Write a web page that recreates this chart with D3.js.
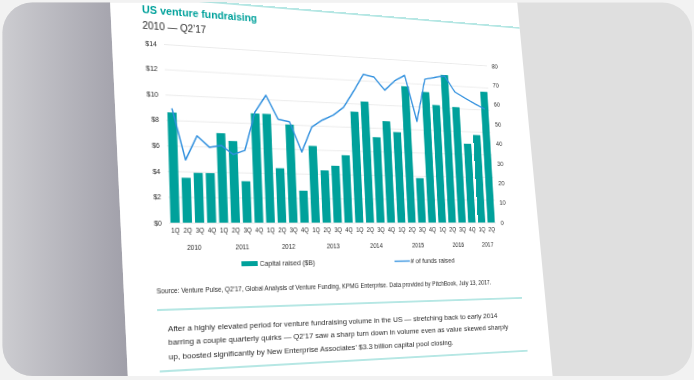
<!DOCTYPE html>
<html><head><meta charset="utf-8">
<script src="https://cdn.jsdelivr.net/npm/d3@7/dist/d3.min.js"></script>
<style>
html,body{margin:0;padding:0;background:#f2f2f2;width:694px;height:380px;overflow:hidden;}
#bg{position:absolute;left:0;top:0;}
#clip{position:absolute;left:0;top:0;width:694px;height:380px;clip-path:polygon(110px 2px,517px 2px,553px 377px,128px 377px);}
#flat{position:absolute;left:0;top:0;width:700px;height:420px;transform-origin:0 0;}
#flat svg{overflow:visible;display:block;}
text{font-family:"Liberation Sans",Arial,sans-serif;}
</style></head><body>
<svg id="bg" width="694" height="380"></svg>
<div id="clip"><div id="flat"><svg width="700" height="420"></svg></div></div>
<script>
// ---------- data ----------
const categories = [
  "2010 1Q","2010 2Q","2010 3Q","2010 4Q",
  "2011 1Q","2011 2Q","2011 3Q","2011 4Q",
  "2012 1Q","2012 2Q","2012 3Q","2012 4Q",
  "2013 1Q","2013 2Q","2013 3Q","2013 4Q",
  "2014 1Q","2014 2Q","2014 3Q","2014 4Q",
  "2015 1Q","2015 2Q","2015 3Q","2015 4Q",
  "2016 1Q","2016 2Q","2016 3Q","2016 4Q",
  "2017 1Q","2017 2Q"
];
const quarterLabels = ["1Q","2Q","3Q","4Q","1Q","2Q","3Q","4Q","1Q","2Q","3Q","4Q","1Q","2Q","3Q","4Q",
  "1Q","2Q","3Q","4Q","1Q","2Q","3Q","4Q","1Q","2Q","3Q","4Q","1Q","2Q"];
const years = ["2010","2011","2012","2013","2014","2015","2016","2017"];
const capitalRaised = [8.6,3.5,3.9,3.9, 7.1,6.5,3.3,8.8, 8.8,4.4,8.0,2.6, 6.3,4.3,4.7,5.6,
  9.3,10.2,7.2,8.6, 7.7,11.7,3.8,11.3, 10.2,12.9,10.1,6.9, 7.7,11.6];
const fundsRaised = [51,28,39,34, 35,31,33,51, 59,48,47,33, 45,48.5,51,55,
  63,71.6,70.6,64.4, 69.3,72.3,49.7,71, 72.2,73.3,65.3,62.5, 59.9,57.5];
const leftTicks = [0,2,4,6,8,10,12,14];
const rightTicks = [0,10,20,30,40,50,60,70,80];
const seriesNames = ["Capital raised ($B)", "# of funds raised"];
const titleText = "US venture fundraising";
const subtitleText = "2010 \u2014 Q2\u201917";
const sourceText = "Source: Venture Pulse, Q2\u201917, Global Analysis of Venture Funding, KPMG Enterprise. Data provided by PitchBook, July 13, 2017.";
const bodyLines = [
  "After a highly elevated period for venture fundraising volume in the US \u2014 stretching back to early 2014",
  "barring a couple quarterly quirks \u2014 Q2\u201917 saw a sharp turn down in volume even as value skewed sharply",
  "up, boosted significantly by New Enterprise Associates\u2019 $3.3 billion capital pool closing."
];

const TEAL = "#00a19b", BLUE = "#2f8fde", TXT = "#2a2a2a", RULE = "#6fcfc9";

// ---------- background (photo frame) ----------
const bg = d3.select("#bg");
const defs = bg.append("defs");
const lg = defs.append("linearGradient").attr("id","lg").attr("x1",0).attr("x2",1).attr("y1",0).attr("y2",0);
lg.append("stop").attr("offset",0).attr("stop-color","#cdcdd1");
lg.append("stop").attr("offset",1).attr("stop-color","#a09fa9");
defs.append("clipPath").attr("id","frame").append("rect")
  .attr("x",2.5).attr("y",2.5).attr("width",689.5).attr("height",373.5).attr("rx",30);
const fg = bg.append("g").attr("clip-path","url(#frame)");
fg.append("rect").attr("x",0).attr("y",0).attr("width",694).attr("height",380).attr("fill","#dfdfdf");
fg.append("path").attr("d","M0,0L110,0L128,380L0,380Z").attr("fill","url(#lg)");
fg.append("path").attr("d","M110,0L517,0L553,380L128,380Z").attr("fill","#ffffff");

// ---------- flat page ----------
const svg = d3.select("#flat svg");
const x0 = 164, x1 = 532, y0 = 44, y1 = 223;

const x = d3.scaleBand().domain(categories).range([x0, x1]).paddingInner(0.25).paddingOuter(0.12);
const yL = d3.scaleLinear().domain([0,14]).range([y1, y0]);
const yR = d3.scaleLinear().domain([0,80]).range([y1, y0]);

// top rule
svg.append("line").attr("x1",100).attr("x2",600).attr("y1",-3).attr("y2",-3)
  .attr("stroke",RULE).attr("stroke-width",1.2);

// title
svg.append("text").attr("x",143).attr("y",14).attr("fill",TEAL)
  .attr("font-size",10.8).attr("font-weight","bold").text(titleText);
svg.append("text").attr("x",143).attr("y",30.5).attr("fill",TXT)
  .attr("font-size",10).text(subtitleText);

// left axis with gridlines
const gL = svg.append("g").attr("transform",`translate(${x0},0)`)
  .call(d3.axisLeft(yL).tickValues(leftTicks).tickFormat(d => "$" + d)
    .tickSize(-(x1 - x0)).tickPadding(7));
gL.select(".domain").remove();
gL.selectAll(".tick line").attr("stroke","#e6e6e6").attr("stroke-width",0.8);
gL.selectAll(".tick text").attr("font-size",7).attr("fill",TXT).attr("font-family",null);

// right axis
const gR = svg.append("g").attr("transform",`translate(${x1},0)`)
  .call(d3.axisRight(yR).tickValues(rightTicks).tickSize(0).tickPadding(6));
gR.select(".domain").remove();
gR.selectAll(".tick text").attr("font-size",7).attr("fill",TXT).attr("font-family",null);

// bars
svg.append("g").selectAll("rect").data(capitalRaised).join("rect")
  .attr("x",(d,i) => x(categories[i]))
  .attr("width",x.bandwidth())
  .attr("y",d => yL(d))
  .attr("height",d => yL(0) - yL(d))
  .attr("fill",TEAL);

// line
const line = d3.line().x((d,i) => x(categories[i]) + x.bandwidth()/2).y(d => yR(d));
svg.append("path").datum(fundsRaised).attr("d",line)
  .attr("fill","none").attr("stroke",BLUE).attr("stroke-width",1.5).attr("stroke-linejoin","round");

// x axis quarter labels
const gX = svg.append("g").attr("transform",`translate(0,${y1})`)
  .call(d3.axisBottom(x).tickSize(0).tickPadding(6).tickFormat((d,i) => quarterLabels[i]));
gX.select(".domain").remove();
gX.selectAll(".tick text").attr("font-size",6.3).attr("fill",TXT).attr("font-family",null);

// year labels
svg.append("g").selectAll("text").data(years).join("text")
  .attr("x",yr => {
    const qs = categories.filter(c => c.startsWith(yr));
    const a = x(qs[0]), b = x(qs[qs.length-1]) + x.bandwidth();
    return (a + b) / 2;
  })
  .attr("y",250.5).attr("text-anchor","middle").attr("font-size",6.5).attr("fill",TXT)
  .text(d => d);

// legend
const lgY = 264.5;
svg.append("rect").attr("x",236).attr("y",lgY-2.5).attr("width",17).attr("height",5).attr("fill",TEAL);
svg.append("text").attr("x",255).attr("y",lgY+2.5).attr("font-size",7.2).attr("fill",TXT).text(seriesNames[0]);
svg.append("line").attr("x1",405).attr("x2",423).attr("y1",lgY).attr("y2",lgY)
  .attr("stroke",BLUE).attr("stroke-width",1.4);
svg.append("text").attr("x",424).attr("y",lgY+2.5).attr("font-size",7.2).attr("fill",TXT).text(seriesNames[1]);

// source
svg.append("text").attr("x",150).attr("y",292).attr("font-size",6.5).attr("fill",TXT).text(sourceText);

// rules around commentary box
svg.append("line").attr("x1",150).attr("x2",560).attr("y1",308).attr("y2",308)
  .attr("stroke",RULE).attr("stroke-width",1.2);
svg.append("line").attr("x1",151).attr("x2",563).attr("y1",367).attr("y2",367)
  .attr("stroke",RULE).attr("stroke-width",1.2);

svg.append("g").selectAll("text").data(bodyLines).join("text")
  .attr("x",160).attr("y",(d,i) => 329 + i*13.5)
  .attr("font-size",8.1).attr("fill",TXT).text(d => d);

// ---------- perspective: homography from flat plot corners to photographed corners ----------
function homography(src, dst){
  const A = [], B = [];
  for (let i = 0; i < 4; i++){
    const [xs, ys] = src[i], [u, v] = dst[i];
    A.push([xs, ys, 1, 0, 0, 0, -xs*u, -ys*u]); B.push(u);
    A.push([0, 0, 0, xs, ys, 1, -xs*v, -ys*v]); B.push(v);
  }
  const n = 8;
  for (let c = 0; c < n; c++){
    let p = c;
    for (let r = c+1; r < n; r++) if (Math.abs(A[r][c]) > Math.abs(A[p][c])) p = r;
    [A[c], A[p]] = [A[p], A[c]]; [B[c], B[p]] = [B[p], B[c]];
    for (let r = 0; r < n; r++){
      if (r === c) continue;
      const f = A[r][c] / A[c][c];
      for (let k = c; k < n; k++) A[r][k] -= f * A[c][k];
      B[r] -= f * B[c];
    }
  }
  return B.map((b, i) => b / A[i][i]);
}
const [a,b,c,d,e,f,g,h] = homography(
  [[x0,y0],[x0,y1],[x1,y0],[x1,y1]],
  [[164,44],[169,222.7],[487,65.5],[496,222.5]]
);
d3.select("#flat").style("transform",
  `matrix3d(${a},${d},0,${g},${b},${e},0,${h},0,0,1,0,${c},${f},0,1)`);
</script>
</body></html>
